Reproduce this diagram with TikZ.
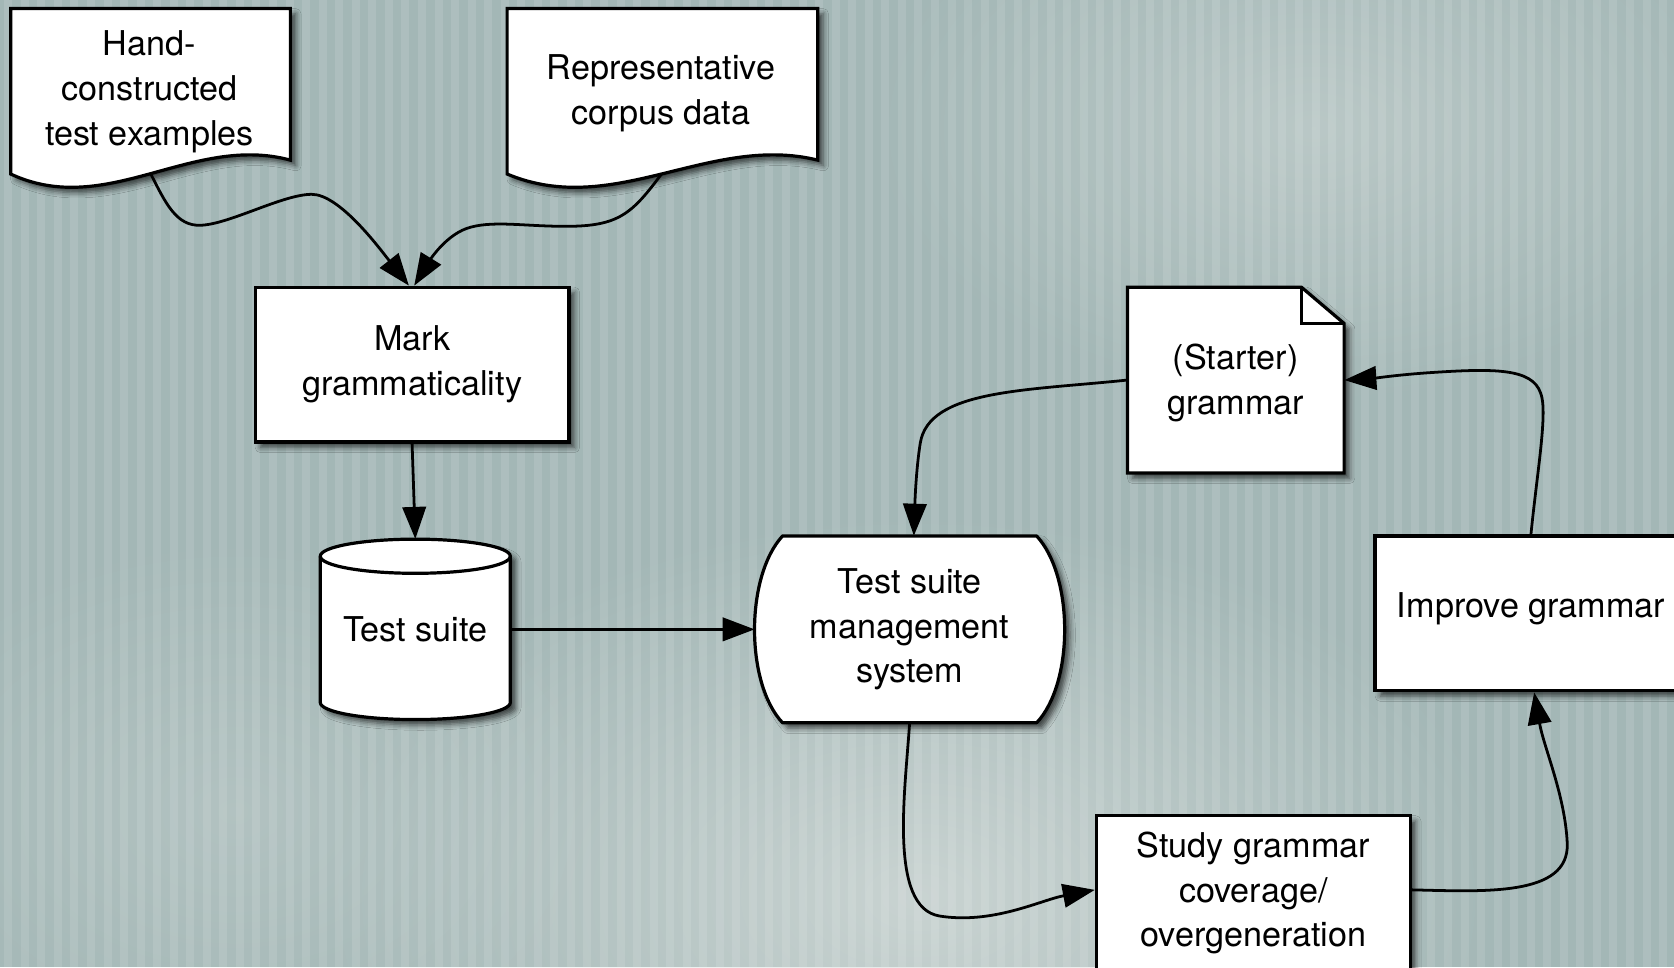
\documentclass[tikz,border=0pt]{standalone}
\usepackage{fontspec}
\setmainfont{TeX Gyre Heros}
\usetikzlibrary{arrows.meta,shadows.blur,fadings}
\definecolor{bgbase}{HTML}{A3B7B6}
\definecolor{bglight}{HTML}{D6DDDB}
\tikzfading[name=softblob, inner color=transparent!0, outer color=transparent!100]

\begin{document}
\begin{tikzpicture}[x=1pt,y=-1pt,
  shapebox/.style={draw=black, line width=3pt, fill=white,
    blur shadow={shadow xshift=5pt, shadow yshift=-5pt,
      shadow blur radius=5pt, shadow opacity=65}},
  txt/.style={inner sep=0pt, align=center, font=\fontsize{32}{42}\selectfont},
  flow/.style={draw=black, line width=2.6pt,
    -{Triangle[length=30pt,width=22pt]}},
]
% page and striped background
\useasboundingbox (0,0) rectangle (1568,906);
\fill[bgbase] (0,0) rectangle (1568,906);
\fill[bglight, opacity=.75, path fading=softblob] (860,840) ellipse (560pt and 360pt);
\fill[bglight, opacity=.45, path fading=softblob] (1230,120) ellipse (420pt and 260pt);
\fill[bglight, opacity=.30, path fading=softblob] (220,760) ellipse (360pt and 260pt);
\foreach \i in {0,...,101}
  \fill[white, opacity=.11] (\i*15.5+4,0) rectangle ++(7.5,906);

% input documents with wavy bottoms
\path[shapebox] (10,8) -- (272,8) -- (272,150)
  .. controls (180,125) and (100,205) .. (10,163) -- cycle;
\node[txt] (h) at (140,86) {Hand-\\constructed\\test examples};
\coordinate (hout) at (141,162.5);

\path[shapebox] (475,8) -- (766,8) -- (766,150)
  .. controls (665,125) and (575,205) .. (475,163) -- cycle;
\node[txt] (r) at (619,87.5) {Representative\\corpus data};
\coordinate (rout) at (620,162.5);

% process boxes
\node[shapebox, txt, minimum width=294pt, minimum height=145pt]
  (m) at (386,341.5) {Mark\\grammaticality};
\node[shapebox, txt, minimum width=292pt, minimum height=145pt, text depth=15pt]
  (ig) at (1434,574.5) {Improve grammar};
\node[shapebox, txt, minimum width=294pt, minimum height=145pt]
  (sgc) at (1174,836.5) {Study grammar\\coverage/\\overgeneration};

% test suite store
\path[shapebox] (300,521) -- (300,658)
  arc[start angle=180, end angle=360, x radius=89pt, y radius=16pt]
  -- (478,521)
  arc[start angle=0, end angle=180, x radius=89pt, y radius=16pt] -- cycle;
\draw[line width=3pt] (300,521)
  arc[start angle=180, end angle=360, x radius=89pt, y radius=16pt];
\node[txt, minimum width=178pt, minimum height=169pt] (ts) at (389,589.5) {Test suite};

% management system
\path[shapebox, line join=round] (733,502) -- (971,502)
  .. controls (1006,540) and (1006,640) .. (971,677) -- (733,677)
  .. controls (698,640) and (698,540) .. (733,502) -- cycle;
\node[txt, minimum width=290pt, minimum height=175pt] (tsm) at (852,589.5)
  {Test suite\\management\\system};

% starter grammar note
\path[shapebox] (1056,269) -- (1219,269) -- (1259,303) -- (1259,443)
  -- (1056,443) -- cycle;
\draw[line width=3pt, line join=miter] (1219,269) -- (1219,303) -- (1259,303);
\node[txt] (sgt) at (1157.5,359) {(Starter)\\grammar};
\node[minimum width=203pt, minimum height=174pt, inner sep=0pt] (sg) at (1157.5,356) {};

% connectors
\draw[flow] (hout) .. controls (155,190) and (165,212) .. (188,211)
  .. controls (215,210) and (265,182) .. (292,182)
  .. controls (318,182) and (355,232) .. ([xshift=-3pt]m.north);
\draw[flow] (rout) .. controls (592,200) and (580,212) .. (530,212)
  .. controls (490,212) and (460,206) .. (437,214)
  .. controls (415,222) and (400,248) .. ([xshift=2pt]m.north);
\draw[flow] (m.south) -- (ts.north);
\draw[flow] (ts.east) -- (tsm.west);
\draw[flow] (sg.west) .. controls (960,366) and (870,365) .. (862,415)
  .. controls (858,440) and (857,470) .. ([xshift=4pt]tsm.north);
\draw[flow] (tsm.south) .. controls (848,740) and (832,850) .. (880,858)
  .. controls (930,866) and (975,843) .. ([yshift=3pt]sgc.west);
\draw[flow] ([yshift=3pt]sgc.east) .. controls (1390,835) and (1470,840) .. (1468,790)
  .. controls (1466,745) and (1446,700) .. ([xshift=3pt]ig.south);
\draw[flow] (ig.north) .. controls (1440,440) and (1450,385) .. (1443,368)
  .. controls (1435,345) and (1400,345) .. (1340,349)
  .. controls (1310,351) and (1290,354) .. (sg.east);
\end{tikzpicture}
\end{document}
